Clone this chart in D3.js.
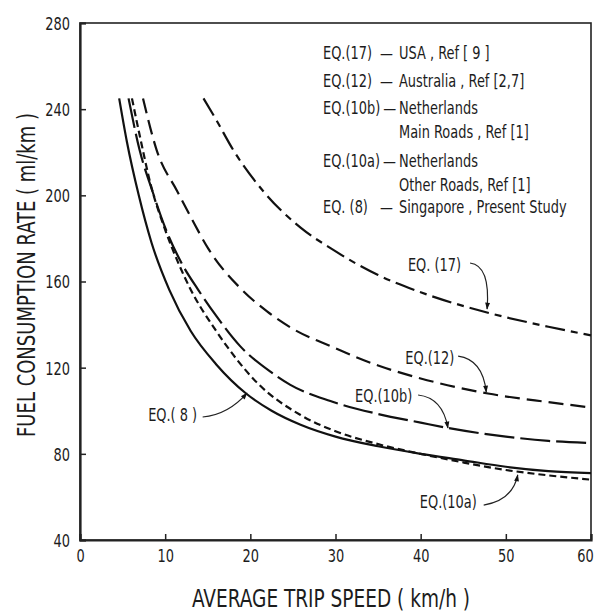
<!DOCTYPE html>
<html>
<head>
<meta charset="utf-8">
<script src="https://cdn.jsdelivr.net/npm/d3@7"></script>
<style>
  body { margin: 0; background: #fff; }
  svg { display: block; font-family: 'DejaVu Sans Condensed', 'Liberation Sans', sans-serif; }
  text { fill: #1c1c1c; }
</style>
</head>
<body>
<script>
const outerWidth = 596
const outerHeight = 612
const margins = {
  top: 23,
  right: 5,
  bottom: 72,
  left: 80
}
const font = "'DejaVu Sans Condensed', 'Liberation Sans', sans-serif"
const squeeze = 0.8

const xTicks = [0, 10, 20, 30, 40, 50, 60]
const yTicks = [40, 80, 120, 160, 200, 240, 280]

// curves, speed in km/h, rate in ml/km
const eq17Speed = [14.5, 16, 18, 21.5, 25.9, 29.6, 35, 40, 47.9, 55, 60]
const eq17Rate = [245, 235, 221, 202, 185, 175, 163, 155, 145.5, 139, 135]

const eq12Speed = [7.4, 9, 11.4, 13, 15.1, 18.8, 22, 25, 29.4, 35, 40, 47.9, 55, 60]
const eq12Rate = [245, 221, 202, 190, 175, 157, 146, 138, 130, 121, 115, 108, 104, 101.5]

const eq10bSpeed = [5.7, 7, 8.5, 10, 12, 13.9, 16, 18.8, 22.4, 24.7, 29.4, 35, 40, 43.2, 50, 55, 60]
const eq10bRate = [245, 221, 202, 185, 168, 156, 144, 130, 118, 112, 104.5, 98.5, 94.5, 92, 88, 86, 85]

const eq10aSpeed = [6.1, 7, 8.3, 10, 11.5, 12.9, 16, 20.8, 25.9, 30, 35, 40, 45, 50, 55, 60]
const eq10aRate = [245, 228, 205, 184, 169, 157, 137, 113, 98, 90.5, 84.5, 80, 76, 72.5, 70, 68]

const eq8Speed = [4.6, 5.5, 6.9, 8.4, 10.5, 13, 16, 19.5, 22.5, 25.9, 30, 35, 40, 45, 50, 55, 60]
const eq8Rate = [245, 225, 200, 178, 156, 137, 121.5, 108, 100, 93.5, 88, 83.5, 80, 77, 74, 72, 71]

const legendLabels = ['EQ.(17)', 'EQ.(12)', 'EQ.(10b)', 'EQ.(10a)', 'EQ. (8)']
const legendTexts = [
  ['USA , Ref [ 9 ]'],
  ['Australia , Ref [2,7]'],
  ['Netherlands', 'Main Roads , Ref [1]'],
  ['Netherlands', 'Other Roads, Ref [1]'],
  ['Singapore , Present Study']
]
const curveLabels = ['EQ. (17)', 'EQ.(12)', 'EQ.(10b)', 'EQ.(10a)', 'EQ.( 8 )']

const series = [
  { speed: eq17Speed, rate: eq17Rate, dash: '20,6,7,6' },
  { speed: eq12Speed, rate: eq12Rate, dash: '15,7' },
  { speed: eq10bSpeed, rate: eq10bRate, dash: '30,6' },
  { speed: eq10aSpeed, rate: eq10aRate, dash: '7,4' },
  { speed: eq8Speed, rate: eq8Rate, dash: null }
]

// where each curve label sits and where its arrow points (data units)
const notes = [
  { text: [38.5, 164.9], from: [45.8, 168.6], ctrl: [48.2, 167.4], to: [47.8, 147.2] },
  { text: [38.2, 121.7], from: [44.4, 125.4], ctrl: [47.3, 123.8], to: [47.7, 108.7] },
  { text: [32.3, 104.1], from: [39.7, 107.3], ctrl: [42.6, 106.0], to: [43.2, 92] },
  { text: [39.9, 54.9], from: [47.4, 56.2], ctrl: [50.8, 58.4], to: [51.4, 70.2] },
  { text: [8.0, 95.2], from: [14.4, 97.1], ctrl: [17.4, 98.2], to: [19.6, 108.2] }
]

const legendRows = [58.5, 86.5, 113.5, 166.5, 212.5]

// narrow the lettering like the drafting font of the original
function narrow(selection) {
  selection.each(function () {
    const el = d3.select(this)
    const x = +el.attr('x') || 0
    const y = +el.attr('y') || 0
    el.attr('x', 0).attr('y', 0)
      .attr('transform', `translate(${x},${y}) scale(${squeeze},1)`)
  })
}

const svg = d3.select('body').append('svg')
  .attr('width', outerWidth)
  .attr('height', outerHeight)

svg.append('defs').append('marker')
  .attr('id', 'head')
  .attr('viewBox', '0 0 10 10')
  .attr('refX', 9)
  .attr('refY', 5)
  .attr('markerWidth', 8)
  .attr('markerHeight', 7)
  .attr('markerUnits', 'userSpaceOnUse')
  .attr('orient', 'auto')
  .append('path')
  .attr('d', 'M0,1.5 L10,5 L0,8.5 Z')
  .attr('fill', '#111')

const xScale = d3.scaleLinear()
  .domain([0, 60])
  .range([margins.left, outerWidth - margins.right])
const yScale = d3.scaleLinear()
  .domain([40, 280])
  .range([outerHeight - margins.bottom, margins.top])

// frame
svg.append('rect')
  .attr('x', xScale(0))
  .attr('y', yScale(280))
  .attr('width', xScale(60) - xScale(0))
  .attr('height', yScale(40) - yScale(280))
  .attr('fill', 'none')
  .attr('stroke', '#222')
  .attr('stroke-width', 1.6)

const xAxis = svg.append('g')
  .attr('transform', `translate(0,${yScale(40)})`)
  .call(d3.axisBottom(xScale).tickValues(xTicks).tickSize(-6).tickPadding(9))
const yAxis = svg.append('g')
  .attr('transform', `translate(${xScale(0)},0)`)
  .call(d3.axisLeft(yScale).tickValues(yTicks).tickSize(-6).tickPadding(10))

;[xAxis, yAxis].forEach(g => {
  g.select('.domain').attr('stroke', '#222').attr('stroke-width', 2.2)
  g.selectAll('.tick line').attr('stroke', '#222').attr('stroke-width', 1.5)
  g.selectAll('.tick text')
    .attr('fill', '#1c1c1c')
    .style('font-family', font)
    .style('font-size', '18px')
})
yAxis.selectAll('.tick text').attr('dy', '0.36em')
xAxis.selectAll('.tick text').attr('x', d => d === 60 ? -6 : 0)
xAxis.selectAll('.tick text').call(narrow)
yAxis.selectAll('.tick text').call(narrow)

const line = d3.line()
  .x(d => xScale(d[0]))
  .y(d => yScale(d[1]))
  .curve(d3.curveMonotoneX)

svg.append('g')
  .selectAll('path')
  .data(series)
  .enter()
  .append('path')
  .attr('d', d => line(d3.zip(d.speed, d.rate)))
  .attr('fill', 'none')
  .attr('stroke', '#111')
  .attr('stroke-width', 2.2)
  .attr('stroke-dasharray', d => d.dash)

// curve labels with arrows
const noteGroup = svg.append('g')
noteGroup.selectAll('text')
  .data(notes)
  .enter()
  .append('text')
  .attr('x', d => xScale(d.text[0]))
  .attr('y', d => yScale(d.text[1]))
  .style('font-size', '18px')
  .text((d, i) => curveLabels[i])
  .call(narrow)
noteGroup.selectAll('path')
  .data(notes)
  .enter()
  .append('path')
  .attr('d', d => `M${xScale(d.from[0])},${yScale(d.from[1])} Q${xScale(d.ctrl[0])},${yScale(d.ctrl[1])} ${xScale(d.to[0])},${yScale(d.to[1])}`)
  .attr('fill', 'none')
  .attr('stroke', '#222')
  .attr('stroke-width', 1.2)
  .attr('marker-end', 'url(#head)')

// legend block
const legend = svg.append('g').style('font-size', '18px')
legendLabels.forEach((label, i) => {
  const y = legendRows[i]
  const lab = legend.append('text')
    .attr('x', 323)
    .attr('y', y)
    .text(label)
  const labEnd = 323 + lab.node().getComputedTextLength() * squeeze
  legend.append('text')
    .attr('x', Math.max(380, labEnd + 3))
    .attr('y', y)
    .text('—')
  legendTexts[i].forEach((t, j) => {
    legend.append('text')
      .attr('x', 399)
      .attr('y', y + j * 24)
      .text(t)
  })
})
legend.selectAll('text').call(narrow)

// axis titles
svg.append('text')
  .attr('x', 331)
  .attr('y', 607)
  .attr('text-anchor', 'middle')
  .attr('textLength', 278)
  .attr('lengthAdjust', 'spacingAndGlyphs')
  .style('font-size', '25px')
  .text('AVERAGE  TRIP  SPEED ( km/h )')

svg.append('text')
  .attr('transform', 'translate(35,275) rotate(-90)')
  .attr('text-anchor', 'middle')
  .attr('textLength', 324)
  .attr('lengthAdjust', 'spacingAndGlyphs')
  .style('font-size', '25px')
  .text('FUEL  CONSUMPTION  RATE ( ml/km )')
</script>
</body>
</html>
